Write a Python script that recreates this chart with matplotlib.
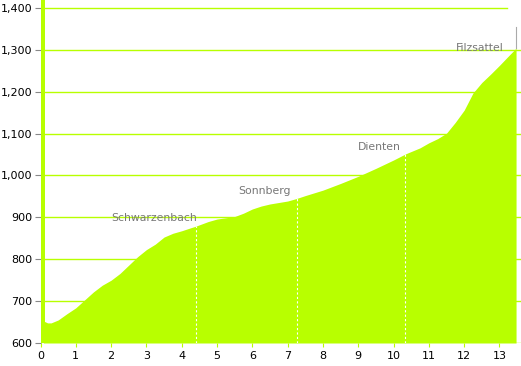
"""Elevation profile: Schwarzenbach - Sonnberg - Dienten - Filzsattel."""

import matplotlib
matplotlib.use("Agg")
import matplotlib.pyplot as plt
from matplotlib.ticker import FuncFormatter

# distance (km) and elevation (m) read from the profile
dist = [0.08, 0.1, 0.2, 0.3, 0.5, 0.75, 1.0, 1.25, 1.5, 1.75, 2.0, 2.25, 2.5, 2.75, 3.0,
        3.25, 3.5, 3.75, 4.0, 4.25, 4.4, 4.75, 5.0, 5.25, 5.5, 5.75, 6.0, 6.25, 6.5, 7.0,
        7.25, 7.5, 8.0, 8.5, 9.0, 9.5, 10.0, 10.35, 10.75, 11.0, 11.25, 11.5, 11.75, 12.0,
        12.25, 12.5, 12.75, 13.0, 13.25, 13.47]
elev = [652, 652, 648, 648, 655, 670, 684, 703, 722, 738, 750, 766, 786, 806, 823,
        836, 853, 862, 868, 875, 879, 890, 896, 899, 902, 910, 920, 927, 932, 939,
        945, 952, 965, 981, 998, 1017, 1037, 1052, 1066, 1078, 1088, 1101, 1127, 1156,
        1197, 1222, 1242, 1263, 1285, 1304]

# start spike (GPS glitch in the original data)
spike_x = [0.0, 0.12]
spike_y = [1420, 1420]

places = ["Schwarzenbach", "Sonnberg", "Dienten", "Filzsattel"]
place_km = [4.4, 7.27, 10.33, 13.47]
place_elev = [879, 946, 1053, 1304]
label_x = [3.22, 6.35, 9.59, 12.45]
label_y = [898, 963, 1068, 1305]

GREEN = "#b8ff00"

fig = plt.figure(figsize=(5.21, 3.66), dpi=100)
ax = fig.add_axes([40.5 / 521, 1 - 343 / 366, (521 - 40.5) / 521, 343 / 366])
ax.set_xlim(0, 13.61)
ax.set_ylim(600, 1419)

yticks = list(range(600, 1401, 100))
ax.set_yticks(yticks)
ax.set_xticks(range(0, 14))
ax.yaxis.set_major_formatter(FuncFormatter(lambda v, p: f"{int(v):,}"))
for y in yticks[:-1]:
    ax.axhline(y, color=GREEN, linewidth=1.0, zorder=0)
ax.axhline(yticks[-1], xmax=(507 - 40.5) / (521 - 40.5), color=GREEN, linewidth=1.0, zorder=0)
for s in ax.spines.values():
    s.set_visible(False)
ax.tick_params(axis="y", labelsize=8, length=4, width=0.8, color="#888888", pad=2)
ax.tick_params(axis="x", labelsize=8, length=3, width=0.8, color=GREEN, pad=3)

ax.fill_between(dist, 600, elev, color=GREEN, linewidth=0, zorder=2)
ax.fill_between(spike_x, 600, spike_y, color=GREEN, linewidth=0, zorder=2)

for name, km, h, lx, ly in zip(places, place_km, place_elev, label_x, label_y):
    if km < 13:
        ax.plot([km, km], [600, h], color="white", linestyle=(0, (2, 2)), linewidth=0.8, zorder=3)
    else:
        ax.plot([km, km], [h, h + 50], color="#aaaaaa", linewidth=0.8, zorder=3)
    ax.text(lx, ly, name, color="#777777", fontsize=7.8, ha="center", va="center", zorder=4)

fig.savefig("out.png", dpi=100)
